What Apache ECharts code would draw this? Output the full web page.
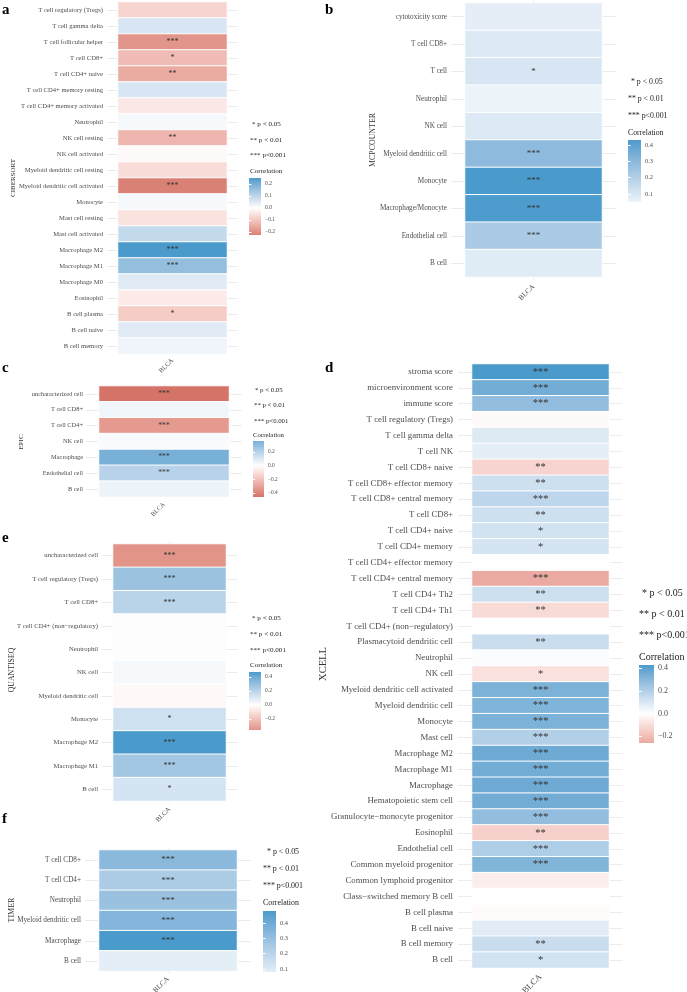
<!DOCTYPE html>
<html>
<head>
<meta charset="utf-8">
<script src="https://cdn.jsdelivr.net/npm/echarts@6/dist/echarts.min.js"></script>
<style>
html,body{margin:0;padding:0;background:#fff;}
#chart{width:687px;height:992px;}
</style>
</head>
<body>
<div id="chart"></div>
<script>
// ---------------- DATA ----------------
const xCategory = ['BLCA'];

const ciberCats = ['T cell regulatory (Tregs)','T cell gamma delta','T cell follicular helper','T cell CD8+','T cell CD4+ naive','T cell CD4+ memory resting','T cell CD4+ memory activated','Neutrophil','NK cell resting','NK cell activated','Myeloid dendritic cell resting','Myeloid dendritic cell activated','Monocyte','Mast cell resting','Mast cell activated','Macrophage M2','Macrophage M1','Macrophage M0','Eosinophil','B cell plasma','B cell naive','B cell memory'];
const ciberVals = [-0.075, 0.06, -0.19, -0.12, -0.15, 0.06, -0.04, 0.015, -0.13, -0.01, -0.06, -0.225, 0.015, -0.05, 0.09, 0.25, 0.16, 0.05, -0.035, -0.09, 0.05, 0.025];
const ciberSig = ['','','***','*','**','','','','**','','','***','','','','***','***','','','*','',''];

const mcpCats = ['cytotoxicity score','T cell CD8+','T cell','Neutrophil','NK cell','Myeloid dendritic cell','Monocyte','Macrophage/Monocyte','Endothelial cell','B cell'];
const mcpVals = [0.07, 0.09, 0.105, 0.05, 0.09, 0.29, 0.43, 0.425, 0.22, 0.085];
const mcpSig = ['','','*','','','***','***','***','***',''];

const epicCats = ['uncharacterized cell','T cell CD8+','T cell CD4+','NK cell','Macrophage','Endothelial cell','B cell'];
const epicVals = [-0.46, 0.04, -0.33, 0.02, 0.36, 0.2, 0.05];
const epicSig = ['***','','***','','***','***',''];

const xcellCats = ['stroma score','microenvironment score','immune score','T cell regulatory (Tregs)','T cell gamma delta','T cell NK','T cell CD8+ naive','T cell CD8+ effector memory','T cell CD8+ central memory','T cell CD8+','T cell CD4+ naive','T cell CD4+ memory','T cell CD4+ effector memory','T cell CD4+ central memory','T cell CD4+ Th2','T cell CD4+ Th1','T cell CD4+ (non\u2212regulatory)','Plasmacytoid dendritic cell','Neutrophil','NK cell','Myeloid dendritic cell activated','Myeloid dendritic cell','Monocyte','Mast cell','Macrophage M2','Macrophage M1','Macrophage','Hematopoietic stem cell','Granulocyte\u2212monocyte progenitor','Eosinophil','Endothelial cell','Common myeloid progenitor','Common lymphoid progenitor','Class\u2212switched memory B cell','B cell plasma','B cell naive','B cell memory','B cell'];
const xcellVals = [0.43, 0.35, 0.28, -0.015, 0.09, 0.07, -0.13, 0.13, 0.17, 0.13, 0.12, 0.11, 0.003, -0.26, 0.13, -0.11, 0.0, 0.14, 0.01, -0.09, 0.33, 0.32, 0.33, 0.2, 0.36, 0.35, 0.36, 0.35, 0.28, -0.14, 0.21, 0.32, -0.05, -0.002, -0.015, 0.08, 0.14, 0.12];
const xcellSig = ['***','***','***','','','','**','**','***','**','*','*','','***','**','**','','**','','*','***','***','***','***','***','***','***','***','***','**','***','***','','','','','**','*'];

const quantCats = ['uncharacterized cell','T cell regulatory (Tregs)','T cell CD8+','T cell CD4+ (non\u2212regulatory)','Neutrophil','NK cell','Myeloid dendritic cell','Monocyte','Macrophage M2','Macrophage M1','B cell'];
const quantVals = [-0.36, 0.28, 0.2, 0.001, 0.002, 0.025, -0.02, 0.14, 0.47, 0.26, 0.12];
const quantSig = ['***','***','***','','','','','*','***','***','*'];

const timerCats = ['T cell CD8+','T cell CD4+','Neutrophil','Myeloid dendritic cell','Macrophage','B cell'];
const timerVals = [0.33, 0.24, 0.29, 0.35, 0.48, 0.08];
const timerSig = ['***','***','***','***','***',''];

const legendTexts = ['* p < 0.05', '** p < 0.01', '*** p<0.001'];
const ticksA = [0.2, 0.1, 0.0, -0.1, -0.2];
const ticksB = [0.4, 0.3, 0.2, 0.1];
const ticksC = [0.2, 0.0, -0.2, -0.4];
const ticksD = [0.4, 0.2, 0.0, -0.2];
const ticksE = [0.4, 0.2, 0.0, -0.2];
const ticksF = [0.4, 0.3, 0.2, 0.1];

// ---------------- COLOR (ggplot gradient2 in Lab) ----------------
const LOW = [212, 115, 104], MID = [255, 255, 255], HIGH = [74, 155, 204];
function toLin(c){c/=255;return c<=0.04045?c/12.92:Math.pow((c+0.055)/1.055,2.4);}
function toSrgb(c){const v=c<=0.0031308?12.92*c:1.055*Math.pow(c,1/2.4)-0.055;return Math.max(0,Math.min(255,Math.round(v*255)));}
function rgb2lab(rgb){
  const r=toLin(rgb[0]),g=toLin(rgb[1]),b=toLin(rgb[2]);
  let X=(0.4124*r+0.3576*g+0.1805*b)/0.95047,Y=(0.2126*r+0.7152*g+0.0722*b),Z=(0.0193*r+0.1192*g+0.9505*b)/1.08883;
  const f=t=>t>0.008856?Math.cbrt(t):7.787*t+16/116;
  const fx=f(X),fy=f(Y),fz=f(Z);
  return [116*fy-16,500*(fx-fy),200*(fy-fz)];
}
function lab2rgb(lab){
  const fy=(lab[0]+16)/116,fx=fy+lab[1]/500,fz=fy-lab[2]/200;
  const fi=t=>{const t3=t*t*t;return t3>0.008856?t3:(t-16/116)/7.787;};
  const X=fi(fx)*0.95047,Y=fi(fy),Z=fi(fz)*1.08883;
  const r=3.2406*X-1.5372*Y-0.4986*Z,g=-0.9689*X+1.8758*Y+0.0415*Z,b=0.0557*X-0.2040*Y+1.0570*Z;
  return 'rgb('+toSrgb(r)+','+toSrgb(g)+','+toSrgb(b)+')';
}
const LLOW=rgb2lab(LOW),LMID=rgb2lab(MID),LHIGH=rgb2lab(HIGH);
function grad(v,M){
  let t=v/M; t=Math.max(-1,Math.min(1,t));
  const tgt=t>=0?LHIGH:LLOW, a=Math.abs(t);
  return lab2rgb([0,1,2].map(k=>LMID[k]+(tgt[k]-LMID[k])*a));
}

// ---------------- LAYOUT ----------------
const FONT = '"Liberation Serif","Times New Roman",serif';
const TXT = '#4d4d4d';
const GRIDC = '#ebebeb';

const panels = [
  {letter:'a', lx:2, ly:10, cats:ciberCats, vals:ciberVals, sig:ciberSig, title:'CIBERSORT',
   tile:{left:118, top:2, width:109, height:352}, lab:6.6, margin:15, tick:11, tt:{x:13,y:178,s:7},
   blca:{s:6.6, m:4}, star:8,
   leg:{xs:[252,250,250,250], ys:[124,140,155,171], s:7.1},
   cb:{left:249, top:178, width:12, height:57, s:5.6, ticks:ticksA}},
  {letter:'b', lx:325, ly:10, cats:mcpCats, vals:mcpVals, sig:mcpSig, title:'MCPCOUNTER',
   tile:{left:465, top:3, width:137, height:274}, lab:7.2, margin:18, tick:13.7, tt:{x:373,y:140,s:7.9},
   blca:{s:7.2, m:6}, star:9,
   leg:{xs:[631,628,628,628], ys:[82,99,116,133], s:7.8},
   cb:{left:628, top:140, width:13, height:62, s:6.4, ticks:ticksB}},
  {letter:'c', lx:2, ly:368, cats:epicCats, vals:epicVals, sig:epicSig, title:'EPIC',
   tile:{left:99, top:386, width:130, height:111}, lab:6.4, margin:16, tick:13, tt:{x:21,y:442,s:7},
   blca:{s:6.4, m:5}, star:7.6,
   leg:{xs:[255,254,254,253], ys:[390,405,421,435], s:6.8},
   cb:{left:253, top:441, width:11, height:56, s:5.4, ticks:ticksC}},
  {letter:'d', lx:325, ly:368, cats:xcellCats, vals:xcellVals, sig:xcellSig, title:'XCELL',
   tile:{left:472, top:364, width:137, height:604}, lab:8.8, margin:19, tick:13.7, tt:{x:323,y:664,s:10.5},
   blca:{s:8.8, m:6}, star:10.5,
   leg:{xs:[642,639,639,639], ys:[593,614,635,657], s:10},
   cb:{left:639, top:665, width:15, height:78, s:8, ticks:ticksD}},
  {letter:'e', lx:2, ly:538, cats:quantCats, vals:quantVals, sig:quantSig, title:'QUANTISEQ',
   tile:{left:113, top:544, width:113, height:257}, lab:6.7, margin:15, tick:11.3, tt:{x:12,y:670,s:7.8},
   blca:{s:6.7, m:5}, star:8,
   leg:{xs:[252,250,250,250], ys:[618,634,650,665], s:7.1},
   cb:{left:249, top:672, width:12, height:58, s:5.6, ticks:ticksE}},
  {letter:'f', lx:2, ly:819, cats:timerCats, vals:timerVals, sig:timerSig, title:'TIMER',
   tile:{left:99, top:850, width:138, height:121}, lab:7.2, margin:18, tick:13.8, tt:{x:12,y:910,s:8},
   blca:{s:7.2, m:5}, star:9,
   leg:{xs:[267,263,263,263], ys:[852,869,886,903], s:7.9},
   cb:{left:263, top:911, width:13, height:61, s:6.4, ticks:ticksF}}
];

function fmtTick(v){ return (v<0?'\u2212':'')+Math.abs(v).toFixed(1); }

const grids=[], xAxes=[], yAxes=[], series=[], visualMaps=[], graphics=[];
panels.forEach((p,i)=>{
  const lo=Math.min(...p.vals), hi=Math.max(...p.vals), M=Math.max(Math.abs(lo),Math.abs(hi));
  const rowH=p.tile.height/p.cats.length;
  // main grid
  grids.push(Object.assign({outerBoundsMode:'none', containLabel:false}, p.tile));
  // cbar grid
  const N=40, stops=[];
  for(let k=0;k<=N;k++){ stops.push({offset:k/N, color:grad(hi-(k/N)*(hi-lo),M)}); }
  grids.push({outerBoundsMode:'none', containLabel:false, left:p.cb.left, top:p.cb.top, width:p.cb.width, height:p.cb.height,
    show:true, borderWidth:0, backgroundColor:{type:'linear',x:0,y:0,x2:0,y2:1,colorStops:stops}});
  const gMain=2*i, gCb=2*i+1;
  const xi=xAxes.length;
  xAxes.push({gridIndex:gMain, type:'category', data:xCategory, position:'bottom',
    axisLine:{show:false}, axisTick:{show:true, alignWithLabel:true, length:rowH*0.1, lineStyle:{color:GRIDC}},
    splitLine:{show:false},
    axisLabel:{rotate:45, fontSize:p.blca.s, fontFamily:FONT, color:TXT, margin:p.blca.m+rowH*0.1}});
  xAxes.push({gridIndex:gMain, type:'category', data:xCategory, position:'top',
    axisLine:{show:false}, axisTick:{show:true, alignWithLabel:true, length:rowH*0.1, lineStyle:{color:GRIDC}},
    axisLabel:{show:false}, splitLine:{show:false}});
  xAxes.push({gridIndex:gCb, type:'value', show:false, min:0, max:1});
  const yi=yAxes.length;
  yAxes.push({gridIndex:gMain, type:'category', data:p.cats, inverse:true, position:'left',
    axisLine:{show:false}, axisTick:{show:true, alignWithLabel:true, interval:0, length:p.tick, lineStyle:{color:GRIDC}},
    splitLine:{show:false},
    axisLabel:{interval:0, fontSize:p.lab, fontFamily:FONT, color:TXT, margin:p.margin}});
  yAxes.push({gridIndex:gMain, type:'category', data:p.cats, inverse:true, position:'right',
    axisLine:{show:false}, axisTick:{show:true, alignWithLabel:true, interval:0, length:p.tick, lineStyle:{color:GRIDC}},
    axisLabel:{show:false}, splitLine:{show:false}});
  yAxes.push({gridIndex:gCb, type:'value', min:lo, max:hi, position:'right',
    axisLine:{show:false}, splitLine:{show:false},
    axisTick:{show:true, inside:true, length:p.cb.width*0.2, customValues:p.cb.ticks, lineStyle:{color:'#fff', width:1}},
    axisLabel:{customValues:p.cb.ticks, formatter:fmtTick, fontSize:p.cb.s, fontFamily:FONT, color:TXT, margin:4}});
  yAxes.push({gridIndex:gCb, type:'value', min:lo, max:hi, position:'left',
    axisLine:{show:false}, splitLine:{show:false},
    axisTick:{show:true, inside:true, length:p.cb.width*0.2, customValues:p.cb.ticks, lineStyle:{color:'#fff', width:1}},
    axisLabel:{show:false}});
  const sig=p.sig;
  series.push({type:'heatmap', xAxisIndex:xi, yAxisIndex:yi,
    data:p.vals.map((v,j)=>[0,j,v]),
    itemStyle:{borderColor:'#fff', borderWidth:1},
    label:{show:true, formatter:(prm)=>sig[prm.data[1]], fontSize:p.star, fontFamily:FONT, color:'#333'},
    emphasis:{disabled:true}, animation:false});
  const vstops=[]; for(let k=0;k<=N;k++){ vstops.push(grad(lo+(k/N)*(hi-lo),M)); }
  visualMaps.push({type:'continuous', show:false, seriesIndex:i, min:lo, max:hi, dimension:2, inRange:{color:vstops}});
  // texts
  graphics.push({type:'text', x:p.lx, y:p.ly, style:{text:p.letter, fontSize:15, fontWeight:'bold', fontFamily:FONT, fill:'#000', align:'left', verticalAlign:'middle'}});
  graphics.push({type:'text', x:p.tt.x, y:p.tt.y, rotation:Math.PI/2, style:{text:p.title, fontSize:p.tt.s, fontFamily:FONT, fill:'#333', align:'center', verticalAlign:'middle'}});
  legendTexts.forEach((t,k)=>{
    graphics.push({type:'text', x:p.leg.xs[k], y:p.leg.ys[k], style:{text:t, fontSize:p.leg.s, fontFamily:FONT, fill:'#222', align:'left', verticalAlign:'middle'}});
  });
  graphics.push({type:'text', x:p.leg.xs[3], y:p.leg.ys[3], style:{text:'Correlation', fontSize:p.leg.s, fontFamily:FONT, fill:'#222', align:'left', verticalAlign:'middle'}});
});

const chart = echarts.init(document.getElementById('chart'), null, {renderer:'canvas'});
chart.setOption({
  backgroundColor:'#fff',
  animation:false,
  textStyle:{fontFamily:FONT},
  grid:grids, xAxis:xAxes, yAxis:yAxes, visualMap:visualMaps, series:series, graphic:graphics
});
</script>
</body>
</html>
